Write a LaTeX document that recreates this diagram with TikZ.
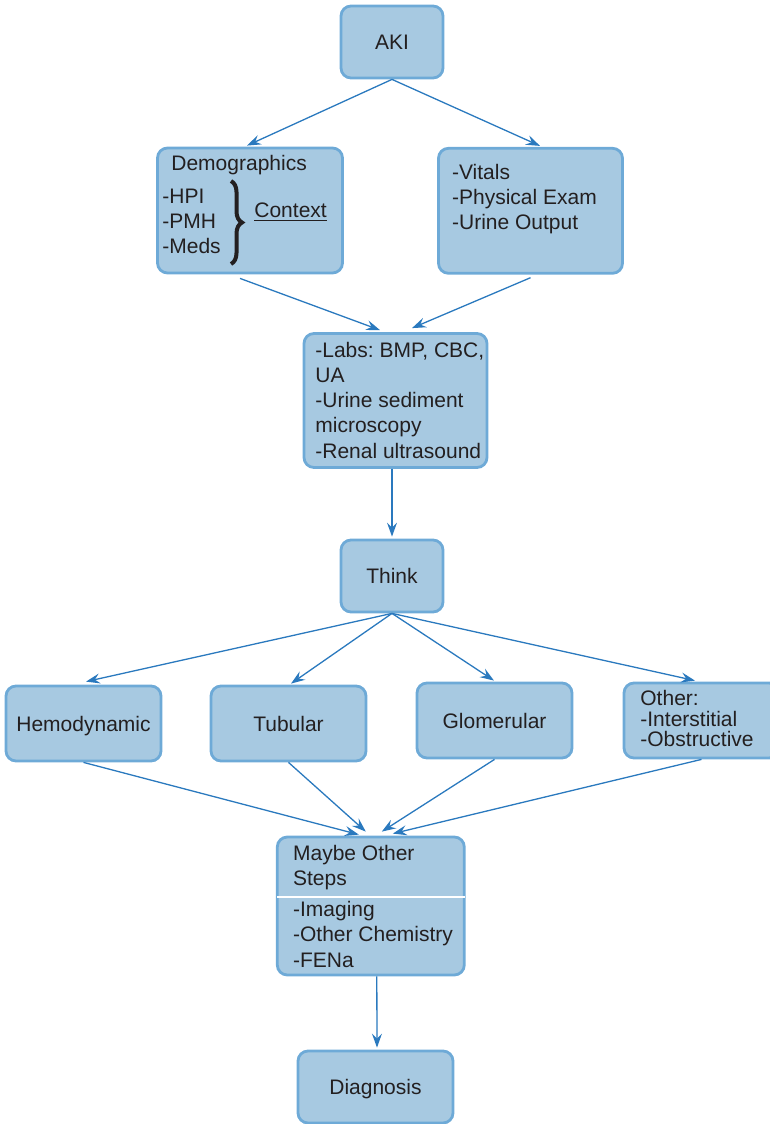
\documentclass[tikz,border=0pt]{standalone}
\usepackage{fontspec}
\setmainfont{Liberation Sans}
\usetikzlibrary{arrows.meta,calc,decorations.pathreplacing}
\definecolor{boxfill}{HTML}{A7C9E1}
\definecolor{boxline}{HTML}{6EAAD7}
\definecolor{arrowcol}{HTML}{2A79BE}
\definecolor{txt}{HTML}{231F20}
\newcommand{\fsz}{\fontsize{10.5}{12.65}\selectfont\frenchspacing}
\begin{document}
\begin{tikzpicture}[x=0.5pt,y=-0.5pt,
  box/.style={draw=boxline, fill=boxfill, line width=1.4pt, rounded corners=5pt,
    inner sep=0pt, text=txt, font=\fsz, align=center, text height=7.5pt, text depth=0pt},
  lbl/.style={anchor=base west, inner sep=0pt, text=txt, font=\fsz},
  arr/.style={draw=arrowcol, line width=0.65pt,
    -{Stealth[length=7pt,width=5pt,inset=2.5pt]}}]
\clip (0,0) rectangle (770,1124);
% boxes
\node[box, minimum width=51pt, minimum height=36pt] (aki) at (392,42) {AKI};
\node[box, minimum width=92.5pt, minimum height=62.5pt] (dem) at (250,210.5) {};
\node[box, minimum width=92pt, minimum height=62.5pt] (vit) at (530.5,210.8) {};
\node[box, minimum width=91.5pt, minimum height=67pt] (lab) at (395.5,400.5) {};
\node[box, minimum width=51pt, minimum height=36pt] (think) at (392,576) {Think};
\node[box, minimum width=77.5pt, minimum height=37.5pt] (hemo) at (83.5,723.5) {Hemodynamic};
\node[box, minimum width=77.5pt, minimum height=37.5pt] (tub) at (288.5,723.5) {Tubular};
\node[box, minimum width=77.5pt, minimum height=37.5pt] (glom) at (494.5,720.5) {Glomerular};
\node[box, minimum width=77.5pt, minimum height=37.5pt] (oth) at (701.5,720.5) {};
\node[box, minimum width=93.5pt, minimum height=69pt] (may) at (370.8,906) {};
\node[box, minimum width=77.5pt, minimum height=36pt] (diag) at (375.5,1087) {Diagnosis};
% Demographics content
\node[lbl] (demT) at (171,170) {Demographics};
\node[lbl] (hpi) at (162,203.5) {-HPI};
\node[lbl] (pmh) at (162,228.5) {-PMH};
\node[lbl] (meds) at (162,253.5) {-Meds};
\draw[txt, line width=2pt, decorate, decoration={brace, amplitude=5.5pt}] (231,181) -- (231,264);
\node[lbl] (ctx) at (254,217) {\underline{Context}};
% Vitals content
\node[lbl] (v1) at (451.7,179.3) {-Vitals};
\node[lbl] (v2) at (451.7,204.6) {-Physical Exam};
\node[lbl] (v3) at (451.7,229.9) {-Urine Output};
% Labs content
\node[lbl] (l1) at (315,357) {-Labs: BMP, CBC,};
\node[lbl] (l2) at (315,382.3) {UA};
\node[lbl] (l3) at (315,407.6) {-Urine sediment};
\node[lbl] (l4) at (315,432.9) {microscopy};
\node[lbl] (l5) at (315,458.2) {-Renal ultrasound};
% Other content
\node[lbl] (o1) at (640,705) {Other:};
\node[lbl] (o2) at (640,726) {-Interstitial};
\node[lbl] (o3) at (640,746.7) {-Obstructive};
% Maybe content
\node[lbl] (m1) at (292.7,860) {Maybe Other};
\node[lbl] (m2) at (292.7,885) {Steps};
\node[lbl] (m3) at (292.7,916) {-Imaging};
\node[lbl] (m4) at (292.7,941.7) {-Other Chemistry};
\node[lbl] (m5) at (292.7,967.4) {-FENa};
\draw[white, line width=1pt] ($(may.west)+(1,-9.3)$) -- ($(may.east)+(-1,-9.3)$);
% arrows
\draw[arr] (aki.south) -- ($(dem.north)+(-3,-1)$);
\draw[arr] (aki.south) -- ($(vit.north)+(9.5,-1)$);
\draw[arr] ($(dem.south)+(-10,4)$) -- ($(lab.north)+(-15.5,-2)$);
\draw[arr] ($(vit.south)+(0,3)$) -- ($(lab.north)+(16.5,-4)$);
\draw[arr] ($(lab.south)+(-3.5,0)$) -- ($(think.north)+(0,-2)$);
\draw[arr] (think.south) -- ($(hemo.north)+(2.5,-3)$);
\draw[arr] (think.south) -- ($(tub.north)+(2.5,-1)$);
\draw[arr] (think.south) -- ($(glom.north)+(-0.5,-1)$);
\draw[arr] (think.south) -- ($(oth.north)+(-6.5,-1)$);
\draw[arr] (hemo.south) -- ($(may.north)+(-12,-1)$);
\draw[arr] (tub.south) -- ($(may.north)+(-5,-4)$);
\draw[arr] (glom.south) -- ($(may.north)+(11,-4)$);
\draw[arr] (oth.south) -- ($(may.north)+(22,-2)$);
\draw[arr] ($(may.south)+(6,0)$) -- ($(diag.north)+(1.5,-2)$);
\end{tikzpicture}
\end{document}
